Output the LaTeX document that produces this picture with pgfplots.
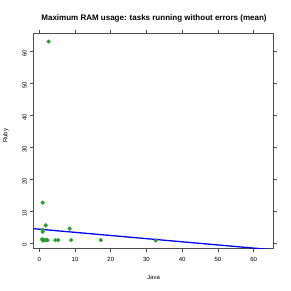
\documentclass[border=0pt]{standalone}
\usepackage{fontspec}
\setmainfont{Liberation Sans}
\usepackage{pgfplots}
\pgfplotsset{compat=1.18}
\definecolor{ptgreen}{RGB}{40,160,40}
\begin{document}
\begin{tikzpicture}
\begin{axis}[
  at={(0pt,0pt)}, anchor=origin,
  scale only axis, width=239.6pt, height=215pt,
  xmin=-1.57, xmax=65.5, ymin=-1.56, ymax=65.6,
  xtick={0,10,...,60}, ytick={0,10,...,60},
  tick align=outside, major tick length=3.5pt,
  axis line style={black!70, line width=0.6pt},
  every tick/.style={black!70, line width=0.6pt},
  tick label style={font=\fontsize{6}{7}\selectfont},
  /pgf/number format/assume math mode=true,
  yticklabel style={rotate=90, anchor=south, yshift=0pt},
  xticklabel style={yshift=-2pt},
  yticklabel style={xshift=-2pt},
  clip=true,
]
\addplot[only marks, mark=*, mark size=1.9pt, color=ptgreen] coordinates {
(0.95,12.7) (1.8,5.6) (0.95,4.2) (0.95,3.6)
(0.8,1.3) (1.2,1.0) (1.6,1.0) (1.9,1.0) (0.95,0.9) (2.3,1.0)
(4.5,1.0) (5.3,1.0) (8.5,4.6) (8.9,1.0) (17.2,1.0) (32.6,0.9) (2.6,63.0)
};
\addplot[blue, line width=1.3pt] coordinates {(-1.57,4.56) (66,-2.09)};
\coordinate (SW) at (axis description cs:0,0);
\end{axis}
\pgfresetboundingbox
\useasboundingbox ([shift={(-33.7pt,-42.7pt)}]SW) rectangle ([shift={(257.3pt,248.3pt)}]SW);
\node[font=\bfseries\fontsize{8}{9}\selectfont] at ([shift={(120.3pt,229.5pt)}]SW) {Maximum RAM usage: tasks running without errors (mean)};
\node[font=\fontsize{6}{7}\selectfont] at ([shift={(119.8pt,-28.8pt)}]SW) {Java};
\node[font=\fontsize{6}{7}\selectfont, rotate=90] at ([shift={(-28pt,112.4pt)}]SW) {Ruby};
\end{tikzpicture}
\end{document}
